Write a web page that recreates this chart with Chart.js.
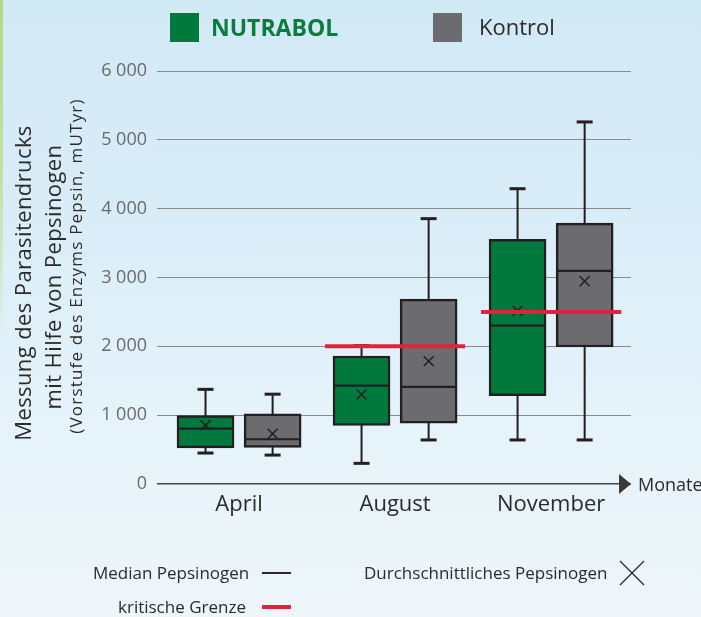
<!DOCTYPE html>
<html>
<head>
<meta charset="utf-8">
<script src="https://cdn.jsdelivr.net/npm/chart.js@4.4.1/dist/chart.umd.min.js"></script>
<style>
  html, body { margin: 0; padding: 0; }
  body {
    width: 701px; height: 617px; position: relative; overflow: hidden;
    font-family: "Open Sans", sans-serif; color: #2b2b2b;
    background: linear-gradient(180deg, #d2e9f6 0%, #d9edf8 35%, #e6f3fa 70%, #eef6fa 100%);
  }
  #stripe { position: absolute; left: 0; top: 0; width: 3px; height: 617px;
    background: linear-gradient(180deg, #b3d986 0%, #c4e2a6 30%, rgba(215,236,230,0) 55%); }
  #chart { position: absolute; left: 0; top: 0; }
  .abs { position: absolute; white-space: nowrap; }
  .sq { position: absolute; width: 29px; height: 29px; }
  .ytitle { position: absolute; white-space: nowrap; transform: translate(-50%, -50%) rotate(-90deg); }
</style>
</head>
<body>
<div id="stripe"></div>
<canvas id="chart" width="701" height="617"></canvas>

<!-- legend -->
<div class="sq" style="left:170px; top:13px; background:#007a3c;"></div>
<div class="abs" style="left:211px; top:12px; font-size:23px; font-weight:700; color:#0a7d3e; line-height:30px;">NUTRABOL</div>
<div class="sq" style="left:433px; top:13px; background:#6b6b70;"></div>
<div class="abs" style="left:479px; top:11px; font-size:22px; color:#2b2b2b; line-height:30px;">Kontrol</div>

<!-- y axis title -->
<div class="ytitle" style="left:22px; top:283px; font-size:22px; letter-spacing:0.4px;">Messung des Parasitendrucks</div>
<div class="ytitle" style="left:52px; top:277px; font-size:22px; letter-spacing:0.4px;">mit Hilfe von Pepsinogen</div>
<div class="ytitle" style="left:75px; top:266px; font-size:17px; letter-spacing:1.2px;">(Vorstufe des Enzyms Pepsin, mUTyr)</div>

<div class="abs" style="left:638px; top:472px; font-size:18px; line-height:24px;">Monate</div>

<!-- notes -->
<div class="abs" style="left:93px; top:562px; font-size:17px; line-height:22px;">Median Pepsinogen</div>
<div class="abs" style="left:262px; top:572px; width:29px; height:2px; background:#2b2b2b;"></div>
<div class="abs" style="left:364px; top:562px; font-size:17px; line-height:22px;">Durchschnittliches Pepsinogen</div>
<svg class="abs" style="left:619px; top:560px;" width="26" height="26" viewBox="0 0 26 26">
  <path d="M1 1 L25 25 M25 1 L1 25" stroke="#2b2b2b" stroke-width="1.3" fill="none"/>
</svg>
<div class="abs" style="left:118px; top:596px; font-size:17px; line-height:22px;">kritische Grenze</div>
<div class="abs" style="left:262px; top:605px; width:29px; height:4px; background:#e4203f;"></div>

<script>
// categories
const months = ['April', 'August', 'November'];
const monthPos = [1, 2, 3];

// NUTRABOL (green)
const nutrabolMin    = [450, 300, 640];
const nutrabolQ1     = [525, 850, 1285];
const nutrabolMedian = [805, 1430, 2300];
const nutrabolQ3     = [995, 1860, 3555];
const nutrabolMax    = [1375, 2010, 4290];
const nutrabolMean   = [855, 1300, 2515];

// Kontrol (grey)
const kontrolMin    = [420, 640, 640];
const kontrolQ1     = [530, 885, 1990];
const kontrolMedian = [650, 1410, 3095];
const kontrolQ3     = [1020, 2685, 3790];
const kontrolMax    = [1305, 3855, 5260];
const kontrolMean   = [730, 1785, 2945];

// critical limit per month
const criticalLimit = [null, 2000, 2500];

// y ticks
const yTicks = [0, 1000, 2000, 3000, 4000, 5000, 6000];

const boxOffset = 0.215;   // half distance between the two boxes of a month
const limitHalf = 0.449;   // half length of the critical limit line
const dark = '#231f20';

const pos = (i, side) => monthPos[i] + side * boxOffset;

function whiskers(min, max, side) {
  return monthPos.flatMap((_, i) => [
    { x: pos(i, side), y: min[i] },
    { x: pos(i, side), y: max[i] },
    { x: pos(i, side), y: null }
  ]);
}
function boxes(q1, q3, side) {
  return monthPos.map((_, i) => ({ x: pos(i, side), y: [q1[i], q3[i]] }));
}
function points(vals, side) {
  return monthPos.map((_, i) => ({ x: pos(i, side), y: vals[i] }));
}
function caps(min, max, side) {
  return points(min, side).concat(points(max, side));
}
const limitData = monthPos.flatMap((p, i) => criticalLimit[i] == null ? [] : [
  { x: p - limitHalf, y: criticalLimit[i] },
  { x: p + limitHalf, y: criticalLimit[i] },
  { x: p, y: null }
]);

const markerLine = { type: 'line', showLine: false, pointBorderColor: dark, pointBackgroundColor: dark };

// arrow at the end of the zero line
const arrowPlugin = {
  id: 'arrow',
  afterDraw(chart) {
    const ctx = chart.ctx;
    const y0 = chart.scales.y.getPixelForValue(0);
    const r = chart.chartArea.right;
    ctx.save();
    ctx.fillStyle = '#3a3a3a';
    ctx.beginPath();
    ctx.moveTo(r, y0);
    ctx.lineTo(r - 12, y0 - 10);
    ctx.lineTo(r - 12, y0 + 10);
    ctx.closePath();
    ctx.fill();
    ctx.restore();
  }
};

new Chart(document.getElementById('chart'), {
  type: 'bar',
  data: {
    datasets: [
      { type: 'line', data: whiskers(nutrabolMin, nutrabolMax, -1), borderColor: dark, borderWidth: 2, pointRadius: 0, spanGaps: false, order: 5 },
      { type: 'line', data: whiskers(kontrolMin, kontrolMax, 1), borderColor: dark, borderWidth: 2, pointRadius: 0, spanGaps: false, order: 5 },
      { label: 'NUTRABOL', data: boxes(nutrabolQ1, nutrabolQ3, -1), backgroundColor: '#007a3c', borderColor: dark, borderWidth: 2.5, borderSkipped: false, barThickness: 57, grouped: false, order: 4 },
      { label: 'Kontrol', data: boxes(kontrolQ1, kontrolQ3, 1), backgroundColor: '#6b6b70', borderColor: dark, borderWidth: 2.5, borderSkipped: false, barThickness: 57, grouped: false, order: 4 },
      { ...markerLine, data: points(nutrabolMedian, -1).concat(points(kontrolMedian, 1)), pointStyle: 'line', pointRadius: 27, pointBorderWidth: 2.2, order: 3 },
      { ...markerLine, data: caps(nutrabolMin, nutrabolMax, -1).concat(caps(kontrolMin, kontrolMax, 1)), pointStyle: 'line', pointRadius: 8, pointBorderWidth: 3, order: 3 },
      { ...markerLine, data: points(nutrabolMean, -1).concat(points(kontrolMean, 1)), pointStyle: 'crossRot', pointRadius: 7, pointBorderWidth: 1.5, order: 3 },
      { type: 'line', data: limitData, borderColor: '#e4203f', borderWidth: 4, pointRadius: 0, spanGaps: false, order: 1 }
    ]
  },
  options: {
    responsive: false,
    animation: false,
    events: [],
    layout: { padding: { left: 90, right: 70, top: 71, bottom: 93 } },
    plugins: { legend: { display: false }, tooltip: { enabled: false } },
    scales: {
      x: {
        type: 'linear', min: 0.474, max: 3.512, offset: false,
        afterBuildTicks: s => { s.ticks = monthPos.map(v => ({ value: v })); },
        afterFit: s => { s.height = 40; },
        ticks: {
          autoSkip: false, maxRotation: 0, padding: 0, color: '#2b2b2b',
          font: { family: 'Open Sans', size: 22 },
          callback: v => months[monthPos.indexOf(v)]
        },
        grid: { display: false },
        border: { display: false }
      },
      y: {
        min: 0, max: 6000,
        afterBuildTicks: s => { s.ticks = yTicks.map(v => ({ value: v })); },
        afterFit: s => { s.width = 67; },
        ticks: {
          padding: 10, color: '#6a6a6a',
          font: { family: 'Open Sans', size: 18 },
          callback: v => v === 0 ? '0' : String(v).replace(/(\d)(?=(\d{3})+$)/g, '$1 ')
        },
        grid: {
          drawTicks: false,
          color: c => c.tick && c.tick.value === 0 ? '#454545' : '#8a8a8a',
          lineWidth: c => c.tick && c.tick.value === 0 ? 1.5 : 1
        },
        border: { display: false }
      }
    }
  },
  plugins: [arrowPlugin]
});
</script>
</body>
</html>
